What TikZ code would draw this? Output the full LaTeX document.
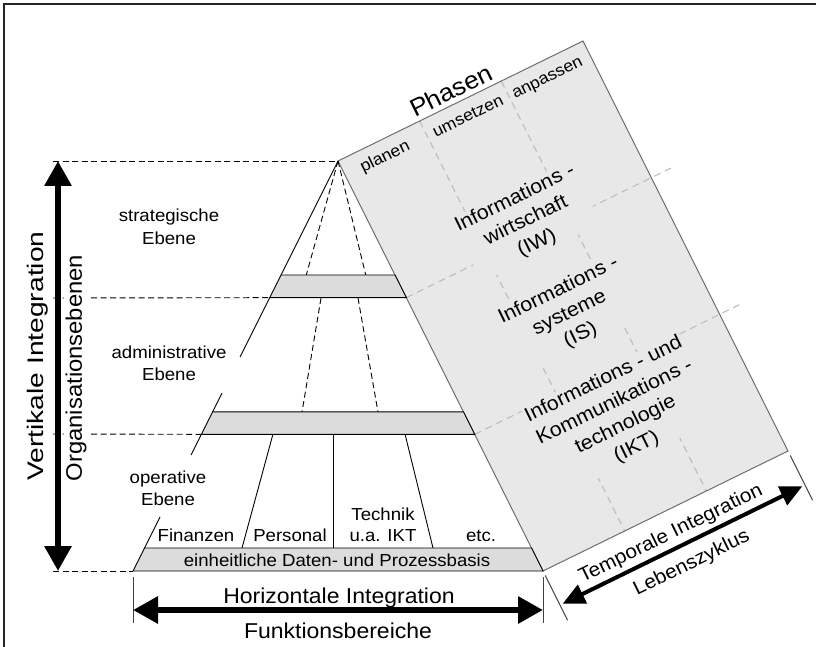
\documentclass[tikz,border=0pt]{standalone}
\usepackage{fontspec}
\setmainfont{Liberation Sans}[FakeStretch=1.07]
\usetikzlibrary{arrows.meta,calc}
\definecolor{planefill}{HTML}{E8E8E8}
\definecolor{bandfill}{HTML}{DCDCDC}
\definecolor{planeedge}{HTML}{6E6E6E}
\definecolor{planedash}{HTML}{BDBDBD}

\begin{document}
\begin{tikzpicture}[x=1pt,y=-1pt,
  outline/.style={line width=0.9pt},
  guide/.style={line width=0.9pt, dash pattern=on 6pt off 3.5pt},
  fan/.style={line width=0.9pt, dash pattern=on 6pt off 3.5pt},
  band/.style={draw, fill=bandfill, line width=0.9pt},
  gridline/.style={draw=planedash, line width=1.1pt, dash pattern=on 7pt off 5pt},
  tickline/.style={line width=1pt, draw=black!75},
  small/.style={font=\fontsize{17.4}{22}\selectfont, inner sep=1pt},
  phase/.style={font=\fontsize{16.5}{20}\selectfont, inner sep=1pt, rotate=26.1},
  large/.style={font=\fontsize{21.5}{26}\selectfont, inner sep=1pt},
  vtext/.style={font=\fontsize{22.5}{26}\selectfont, inner sep=2pt, rotate=90},
  celltext/.style={font=\fontsize{20}{25}\selectfont, align=center, rotate=26.1,
    fill=planefill, inner sep=1pt},
  bigarrow/.style={line width=6pt,
    {Triangle[length=25pt,width=26pt]}-{Triangle[length=25pt,width=26pt]}},
  timearrow/.style={line width=4pt,
    {Triangle[length=22pt,width=20pt]}-{Triangle[length=22pt,width=20pt]}}
]
\useasboundingbox (0,0) rectangle (816,647);

% frame
\draw[line width=1.6pt, black!85] (4,647) -- (4,4) -- (816,4);

% main corners
\coordinate (apex) at (338,161);
\coordinate (bl) at (133,571);
\coordinate (br) at (543,571);
\coordinate (pt) at (583,41);
\coordinate (pr) at (788,451);

% phase / lifecycle plane
\fill[planefill] (apex) -- (pt) -- (pr) -- (br) -- cycle;
\draw[gridline] ($(apex)!1/3!(pt)$) -- ($(br)!1/3!(pr)$);
\draw[gridline] ($(apex)!2/3!(pt)$) -- ($(br)!2/3!(pr)$);
\coordinate (lv1) at ($(apex)!1/3!(br)$);
\coordinate (lv2) at ($(apex)!2/3!(br)$);
\draw[gridline] (lv1) -- ++(264.6,-129.6);
\draw[gridline] (lv2) -- ++(264.6,-129.6);
\draw[planeedge, line width=1pt] (apex) -- (pt) -- (pr) -- (br) -- cycle;

% horizontal guides of the levels
\draw[guide] (53,161) -- (apex);
\draw[guide] (53,298) -- ($(apex)!1/3!(bl)$);
\draw[guide] (53,434) -- ($(apex)!2/3!(bl)$);
\draw[guide] (53,571) -- (bl);

% pyramid left flank (interrupted for the labels)
\draw[outline] (apex) -- ($(apex)!0.278!(bl)$);
\draw[outline] ($(apex)!1/3!(bl)$) -- ($(apex)!0.478!(bl)$);
\draw[outline] ($(apex)!0.566!(bl)$) -- ($(apex)!0.612!(bl)$);
\draw[outline] ($(apex)!2/3!(bl)$) -- ($(apex)!0.717!(bl)$);
\draw[outline] ($(apex)!0.868!(bl)$) -- ($(apex)!0.944!(bl)$);

% inner partitions
\draw[fan] (apex) -- (306,276);
\draw[fan] (apex) -- (366,276);
\draw[fan] (321,298) -- (302,412);
\draw[fan] (358,298) -- (378,412);
\draw[outline] (273,434) -- (242,548);
\draw[outline] (333,434) -- (333,548);
\draw[outline] (405,434) -- (433,548);

% bands
\filldraw[band] ($(apex)!0.278!(bl)$) -- ($(apex)!0.278!(br)$) -- ($(apex)!1/3!(br)$) -- ($(apex)!1/3!(bl)$) -- cycle;
\filldraw[band] ($(apex)!0.612!(bl)$) -- ($(apex)!0.612!(br)$) -- ($(apex)!2/3!(br)$) -- ($(apex)!2/3!(bl)$) -- cycle;
\filldraw[band] ($(apex)!0.944!(bl)$) -- ($(apex)!0.944!(br)$) -- (br) -- (bl) -- cycle;

% pyramid labels
\node[small, anchor=base] (strat1) at (169,222) {strategische};
\node[small, anchor=base] (strat2) at (169,244) {Ebene};
\node[small, anchor=base] (adm1) at (169,358) {administrative};
\node[small, anchor=base] (adm2) at (169,380) {Ebene};
\node[small, anchor=base] (op1) at (168,483) {operative};
\node[small, anchor=base] (op2) at (168,505) {Ebene};
\node[small, anchor=base] (fin) at (196,541) {Finanzen};
\node[small, anchor=base] (pers) at (290,541) {Personal};
\node[small, anchor=base] (tech1) at (383,520) {Technik};
\node[small, anchor=base] (tech2) at (383,541) {u.a. IKT};
\node[small, anchor=base] (etc) at (481,541) {etc.};
\node[small, anchor=base] (basis) at (337,566) {einheitliche Daten- und Prozessbasis};

% vertical integration
\node[vtext] (vint) at (38,356) {\scalebox{1.17}[1]{Vertikale Integration}};
\node[vtext, fill=white] (orgeb) at (76,368) {\scalebox{0.99}[1]{Organisationsebenen}};
\coordinate (vtop) at (58,161);
\coordinate (vbot) at (58,571);
\draw[bigarrow] (vtop) -- (vbot);

% horizontal integration
\coordinate (hl) at (133,610);
\coordinate (hr) at (543,610);
\draw[tickline] (133,577) -- (133,623);
\draw[tickline] (543,577) -- (543,623);
\draw[bigarrow] (hl) -- (hr);
\node[large, anchor=base] (hint) at (339,603) {Horizontale Integration};
\node[large, anchor=base] (funk) at (338,638) {Funktionsbereiche};

% temporal integration
\draw[tickline] (545.2,575.5) -- (567.6,620.2);
\draw[tickline] (790.2,455.5) -- (812.6,500.2);
\coordinate (tl) at (562.7,603.7);
\coordinate (tr) at (802.3,486.3);
\draw[timearrow] (tl) -- (tr);
\node[large, rotate=26.1, font=\fontsize{19.5}{24}\selectfont] (tint) at (670.9,534) {Temporale Integration};
\node[large, rotate=26.1, font=\fontsize{19.5}{24}\selectfont] (leben) at (691.7,563.5) {Lebenszyklus};

% phases
\node[phase, font=\fontsize{24.5}{28}\selectfont] (phasen) at (451.1,90.3) {Phasen};
\node[phase] (planen) at (385.2,157.3) {planen};
\node[phase] (umsetzen) at (467.9,115.8) {umsetzen};
\node[phase] (anpassen) at (548.2,79.4) {anpassen};

% plane cells
\node[celltext] (iw) at (526,221) {Informations -\\wirtschaft\\(IW)};
\node[celltext] (is) at (569.5,313) {Informations -\\systeme\\(IS)};
\node[celltext] (ikt) at (620.2,413.7) {Informations - und\\Kommunikations -\\technologie\\(IKT)};
\end{tikzpicture}
\end{document}
